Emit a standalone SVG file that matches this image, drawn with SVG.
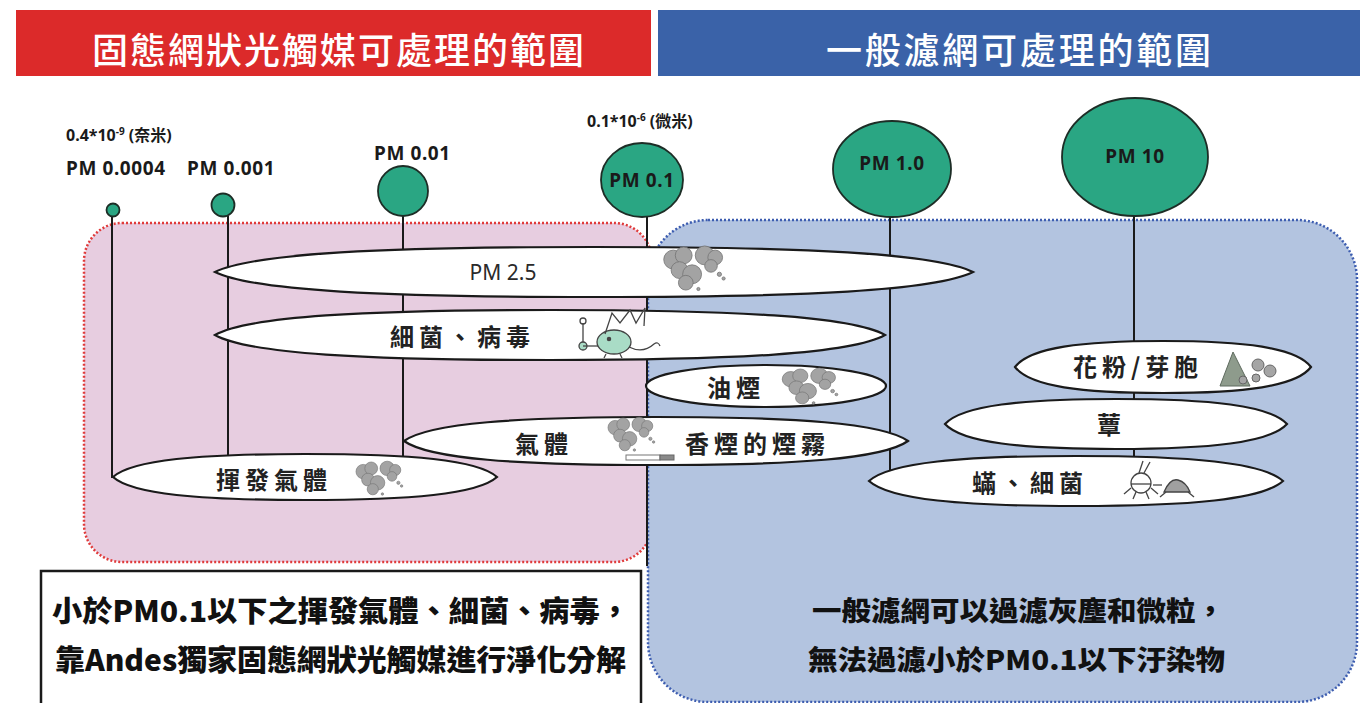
<svg xmlns="http://www.w3.org/2000/svg" xmlns:xlink="http://www.w3.org/1999/xlink" width="1360" height="703" viewBox="0 0 1360 703">
  <style>
    .hdr { font-family: "Noto Sans CJK TC", "Noto Sans CJK SC", sans-serif; font-size: 36px; font-weight: 500; fill: #ffffff; }
    .lbl { font-family: "Noto Sans", "Noto Sans CJK TC", sans-serif; font-size: 19px; font-weight: 700; letter-spacing: 0.6px; fill: #1a1a1a; }
    .unit { font-family: "Noto Sans", "Noto Sans CJK TC", sans-serif; font-size: 16px; font-weight: 700; fill: #1a1a1a; }
    .pm25 { font-family: "Noto Sans", "Liberation Sans", sans-serif; font-size: 21px; fill: #2a2a2a; }
    .cj { font-family: "Noto Sans CJK TC", "Noto Sans CJK SC", sans-serif; font-size: 24px; font-weight: 700; letter-spacing: 5px; fill: #222222; }
    .note { font-family: "Noto Sans CJK TC", "Noto Sans CJK SC", sans-serif; font-size: 29px; font-weight: 900; fill: #111111; }
    .note2 { font-family: "Noto Sans CJK TC", "Noto Sans CJK SC", sans-serif; font-size: 27px; font-weight: 900; fill: #111111; }
    .lens { fill: #ffffff; stroke: #1a1a1a; stroke-width: 2.2; }
    .dot { fill: #2aa683; stroke: #1d2d26; stroke-width: 1.8; }
    .stem { stroke: #1a1a1a; stroke-width: 2; fill: none; }
    .ink { stroke: #444444; stroke-width: 1.3; fill: none; }
  </style>
  <defs>
    <g id="smoke" fill="#a3a3a3" stroke="#767676" stroke-width="0.8">
      <circle cx="-16" cy="-8" r="9"/>
      <circle cx="-6" cy="-12" r="8"/>
      <circle cx="-10" cy="2" r="8"/>
      <circle cx="2" cy="6" r="9"/>
      <circle cx="-4" cy="14" r="7"/>
      <circle cx="14" cy="-12" r="9"/>
      <circle cx="24" cy="-10" r="7"/>
      <circle cx="20" cy="-2" r="6"/>
      <circle cx="28" cy="6" r="2"/>
      <circle cx="32" cy="10" r="1.5"/>
      <circle cx="8" cy="20" r="1.5"/>
    </g>
  </defs>

  <rect width="1360" height="703" fill="#ffffff"/>

  <!-- title bars -->
  <g id="title-left">
    <rect x="16" y="10" width="635" height="66" fill="#dc2a2a"/>
    <text class="hdr" x="92" y="64" textLength="492">固態網狀光觸媒可處理的範圍</text>
  </g>
  <g id="title-right">
    <rect x="658" y="10" width="702" height="66" fill="#3a62a8"/>
    <text class="hdr" x="826" y="64" textLength="385">一般濾網可處理的範圍</text>
  </g>

  <!-- range areas -->
  <g id="area-photocatalyst">
    <rect x="84" y="223" width="568" height="339" rx="38" ry="38" fill="#e7cde0" stroke="#e03a3a" stroke-width="2.5" stroke-dasharray="2 2"/>
  </g>
  <g id="area-filter">
    <rect x="648" y="220" width="709" height="482" rx="60" ry="60" fill="#b3c4e0" stroke="#3d5db0" stroke-width="2.5" stroke-dasharray="2 2"/>
  </g>

  <!-- size lines -->
  <g id="connectors" class="stem">
    <line x1="112" y1="216" x2="112" y2="478"/>
    <line x1="228" y1="216" x2="228" y2="460"/>
    <line x1="403" y1="216" x2="403" y2="465"/>
    <line x1="647" y1="217" x2="647" y2="566"/>
    <line x1="890" y1="217" x2="890" y2="472"/>
    <line x1="1134" y1="216" x2="1134" y2="460"/>
  </g>

  <!-- pollutant bands -->
  <g id="band-pm25">
    <path class="lens" d="M215,272 C252.9,253.25 385.5,247 594,247 C802.5,247 935.1,253.25 973,272 C935.1,290.75 802.5,297 594,297 C385.5,297 252.9,290.75 215,272Z"/>
    <text class="pm25" x="503" y="280" text-anchor="middle">PM 2.5</text>
    <use xlink:href="#smoke" transform="translate(690 268) scale(1.05)"/>
  </g>
  <g id="band-bacteria-virus">
    <path class="lens" d="M215,335 C248.5,316.25 365.75,310 550,310 C734.25,310 851.5,316.25 885,335 C851.5,353.75 734.25,360 550,360 C365.75,360 248.5,353.75 215,335Z"/>
    <text class="cj" x="390" y="346">細菌、病毒</text>
    <g class="ink">
      <line x1="583" y1="323" x2="583" y2="343"/>
      <circle cx="583" cy="321" r="3"/>
      <circle cx="583" cy="346" r="4" fill="#a9dcc6"/>
      <line x1="583" y1="346" x2="598" y2="346"/>
      <ellipse cx="614" cy="342" rx="17" ry="12" fill="#a9dcc6"/>
      <polyline points="605,334 612,313 620,323 630,310 636,323 645,308 644,326"/>
      <path d="M629,347 q14,7 25,-3 q4,-3 6,2"/>
      <circle cx="609" cy="339" r="1.6" fill="#444"/>
      <line x1="606" y1="354" x2="604" y2="358"/>
      <line x1="620" y1="354" x2="622" y2="358"/>
    </g>
  </g>
  <g id="band-oil-smoke">
    <ellipse class="lens" cx="766" cy="386" rx="120" ry="21"/>
    <text class="cj" x="707" y="397">油煙</text>
    <use xlink:href="#smoke" transform="translate(806 386) scale(0.95 0.85)"/>
  </g>
  <g id="band-gas-cigarette">
    <path class="lens" d="M404,441 C429.2,423 517.4,417 656,417 C794.6,417 882.8,423 908,441 C882.8,459 794.6,465 656,465 C517.4,465 429.2,459 404,441Z"/>
    <text class="cj" x="515" y="453">氣體</text>
    <use xlink:href="#smoke" transform="translate(628 434) scale(0.8)"/>
    <rect x="626" y="455" width="34" height="5" fill="#ffffff" stroke="#777" stroke-width="1"/>
    <rect x="660" y="455" width="14" height="5" fill="#8a8a8a" stroke="#666" stroke-width="1"/>
    <text class="cj" x="685" y="453">香煙的煙霧</text>
  </g>
  <g id="band-voc">
    <path class="lens" d="M113,477 C132.2,459.75 199.4,454 305,454 C410.6,454 477.8,459.75 497,477 C477.8,494.25 410.6,500 305,500 C199.4,500 132.2,494.25 113,477Z"/>
    <text class="cj" x="216" y="489">揮發氣體</text>
    <use xlink:href="#smoke" transform="translate(376 478) scale(0.8)"/>
  </g>
  <g id="band-pollen">
    <path class="lens" d="M1015,367 C1029.8,347.5 1081.6,341 1163,341 C1244.4,341 1296.2,347.5 1311,367 C1296.2,386.5 1244.4,393 1163,393 C1081.6,393 1029.8,386.5 1015,367Z"/>
    <text class="cj" x="1073" y="376">花粉/芽胞</text>
    <polygon points="1220,386 1233,352 1250,386" fill="#8e9b8c" stroke="#5e6a5e" stroke-width="1"/>
    <g fill="#a5a5a5" stroke="#666" stroke-width="1">
      <circle cx="1258" cy="365" r="6"/>
      <circle cx="1270" cy="371" r="6"/>
      <circle cx="1256" cy="378" r="4"/>
      <circle cx="1243" cy="380" r="4"/>
    </g>
  </g>
  <g id="band-mould">
    <path class="lens" d="M945,424 C962.1,405.25 1022,399 1116,399 C1210,399 1269.9,405.25 1287,424 C1269.9,442.75 1210,449 1116,449 C1022,449 962.1,442.75 945,424Z"/>
    <text class="cj" x="1097" y="434">蕈</text>
  </g>
  <g id="band-mites">
    <path class="lens" d="M869,481 C889.7,462.25 962.15,456 1076,456 C1189.85,456 1262.3,462.25 1283,481 C1262.3,499.75 1189.85,506 1076,506 C962.15,506 889.7,499.75 869,481Z"/>
    <text class="cj" x="972" y="492">蟎、細菌</text>
    <g class="ink" stroke="#555">
      <circle cx="1141" cy="483" r="10"/>
      <line x1="1131" y1="484" x2="1151" y2="484"/>
      <line x1="1139" y1="473" x2="1143" y2="461"/>
      <line x1="1144" y1="473" x2="1150" y2="462"/>
      <line x1="1131" y1="488" x2="1124" y2="494"/>
      <line x1="1151" y1="488" x2="1158" y2="494"/>
      <line x1="1136" y1="492" x2="1133" y2="499"/>
      <line x1="1146" y1="492" x2="1149" y2="499"/>
      <line x1="1153" y1="485" x2="1162" y2="485"/>
      <path d="M1164,492 q6,-14 14,-12 q8,2 12,12 z" fill="#a0a0a0"/>
      <line x1="1166" y1="492" x2="1160" y2="497"/>
      <line x1="1188" y1="492" x2="1194" y2="497"/>
    </g>
  </g>

  <!-- particle sizes -->
  <g id="pm-0-0004">
    <circle class="dot" cx="113" cy="210" r="6.5"/>
    <text class="unit" x="66" y="141">0.4*10<tspan font-size="10" dy="-6">-9</tspan><tspan dx="4" dy="6">(奈米)</tspan></text>
    <text class="lbl" x="66" y="175">PM 0.0004</text>
  </g>
  <g id="pm-0-001">
    <circle class="dot" cx="223" cy="205" r="11.5"/>
    <text class="lbl" x="187" y="175">PM 0.001</text>
  </g>
  <g id="pm-0-01">
    <circle class="dot" cx="403" cy="191" r="25"/>
    <text class="lbl" x="374" y="160">PM 0.01</text>
  </g>
  <g id="pm-0-1">
    <ellipse class="dot" cx="642" cy="180" rx="41" ry="37"/>
    <text class="unit" x="587" y="127">0.1*10<tspan font-size="10" dy="-6">-6</tspan><tspan dx="4" dy="6">(微米)</tspan></text>
    <text class="lbl" x="642" y="187" text-anchor="middle">PM 0.1</text>
  </g>
  <g id="pm-1-0">
    <ellipse class="dot" cx="892" cy="169" rx="59" ry="48"/>
    <text class="lbl" x="892" y="170" text-anchor="middle">PM 1.0</text>
  </g>
  <g id="pm-10">
    <ellipse class="dot" cx="1135" cy="157" rx="73" ry="59"/>
    <text class="lbl" x="1135" y="163" text-anchor="middle">PM 10</text>
  </g>

  <!-- explanation notes -->
  <g id="note-photocatalyst">
    <rect x="41" y="571" width="600" height="140" fill="#ffffff" stroke="#1a1a1a" stroke-width="2.5"/>
    <text class="note" x="52" y="622" textLength="578" lengthAdjust="spacingAndGlyphs">小於PM0.1以下之揮發氣體、細菌、病毒，</text>
    <text class="note" x="55" y="671" textLength="571" lengthAdjust="spacingAndGlyphs">靠Andes獨家固態網狀光觸媒進行淨化分解</text>
  </g>
  <g id="note-filter">
    <text class="note2" x="812" y="621" textLength="413" lengthAdjust="spacingAndGlyphs">一般濾網可以過濾灰塵和微粒，</text>
    <text class="note2" x="808" y="670" textLength="417" lengthAdjust="spacingAndGlyphs">無法過濾小於PM0.1以下汙染物</text>
  </g>
</svg>
